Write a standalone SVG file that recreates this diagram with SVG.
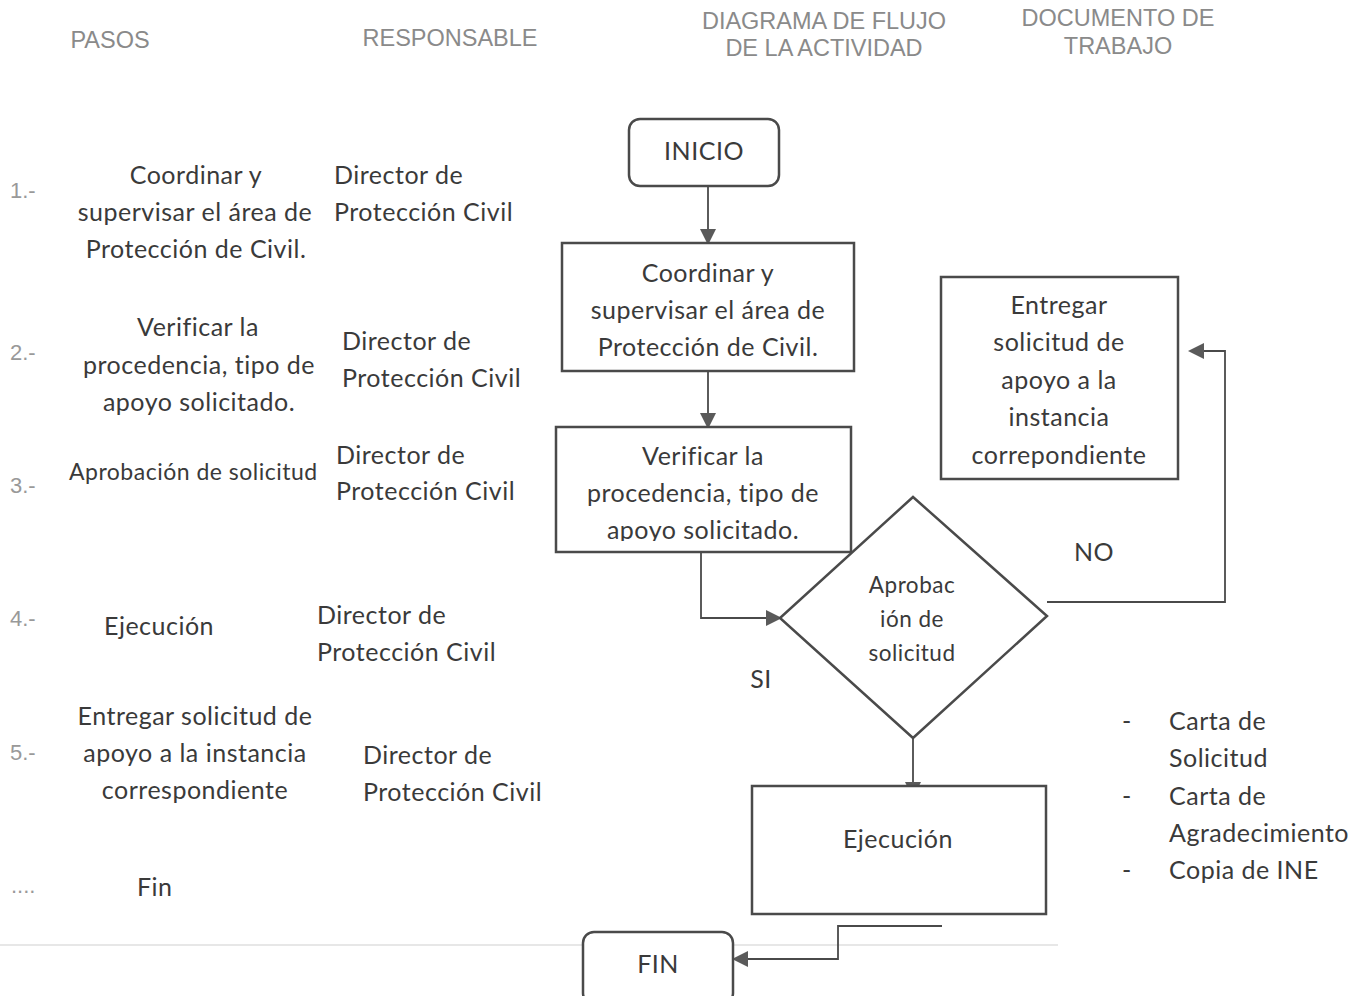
<svg xmlns="http://www.w3.org/2000/svg" width="1365" height="996" viewBox="0 0 1365 996">
<style>
.hd{font-family:"Liberation Sans",Arial,sans-serif;font-size:23.5px;fill:#8a8a8a;text-anchor:middle}
.num{font-family:"Liberation Sans",Arial,sans-serif;font-size:22px;fill:#999}
.t{font-family:Lato,"Noto Sans",sans-serif;font-size:25px;letter-spacing:0.5px;fill:#3a3a3a}
.c{text-anchor:middle}
.box{fill:#fff;stroke:#4a4a4a;stroke-width:2.5}
.ln{fill:none;stroke:#4a4a4a;stroke-width:1.8}
</style>
<defs>
<marker id="ah" markerWidth="16" markerHeight="16" refX="14" refY="8" orient="auto" markerUnits="userSpaceOnUse">
<path d="M0,0 L16,8 L0,16 Z" fill="#5a5a5a"/>
</marker>
<clipPath id="clip2"><rect x="556" y="427" width="295" height="114"/></clipPath>
</defs>
<rect width="1365" height="996" fill="#fff"/>
<g id="headers">
<text class="hd" x="110" y="48">PASOS</text>
<text class="hd" x="450" y="46">RESPONSABLE</text>
<text class="hd" x="824" y="29">DIAGRAMA DE FLUJO</text>
<text class="hd" x="824" y="56">DE LA ACTIVIDAD</text>
<text class="hd" x="1118" y="26">DOCUMENTO DE</text>
<text class="hd" x="1118" y="54">TRABAJO</text>
</g>
<line x1="0" y1="945" x2="1058" y2="945" stroke="#d0d0d0" stroke-width="1.2"/>
<g id="steps">
<text class="num" x="10" y="198">1.-</text>
<text class="t c" x="196" y="184">Coordinar y</text>
<text class="t c" x="195" y="221">supervisar el área de</text>
<text class="t c" x="196" y="258">Protección de Civil.</text>
<text class="num" x="10" y="360">2.-</text>
<text class="t c" x="198" y="336">Verificar la</text>
<text class="t c" x="199" y="374">procedencia, tipo de</text>
<text class="t c" x="199" y="411">apoyo solicitado.</text>
<text class="num" x="10" y="493">3.-</text>
<text class="t" x="69" y="480" style="font-size:23px">Aprobación de solicitud</text>
<text class="num" x="10" y="626">4.-</text>
<text class="t" x="104" y="635">Ejecución</text>
<text class="num" x="10" y="760">5.-</text>
<text class="t c" x="195" y="725">Entregar solicitud de</text>
<text class="t c" x="195" y="762">apoyo a la instancia</text>
<text class="t c" x="195" y="799">correspondiente</text>
<text class="num" x="11" y="893">....</text>
<text class="t" x="137" y="896">Fin</text>
</g>
<g id="responsables">
<text class="t" x="334" y="184">Director de</text>
<text class="t" x="334" y="221">Protección Civil</text>
<text class="t" x="342" y="350">Director de</text>
<text class="t" x="342" y="387">Protección Civil</text>
<text class="t" x="336" y="464">Director de</text>
<text class="t" x="336" y="500">Protección Civil</text>
<text class="t" x="317" y="624">Director de</text>
<text class="t" x="317" y="661">Protección Civil</text>
<text class="t" x="363" y="764">Director de</text>
<text class="t" x="363" y="801">Protección Civil</text>
</g>
<g id="connectors">
<line class="ln" x1="708" y1="186" x2="708" y2="243" marker-end="url(#ah)"/>
<line class="ln" x1="708" y1="371" x2="708" y2="427" marker-end="url(#ah)"/>
<polyline class="ln" points="701,552 701,618 780,618" marker-end="url(#ah)"/>
<polyline class="ln" points="1047,602 1225,602 1225,351 1190,351" marker-end="url(#ah)"/>
<line class="ln" x1="913" y1="738" x2="913" y2="796" marker-end="url(#ah)"/>
<polyline class="ln" points="942,926 838,926 838,959 734,959" marker-end="url(#ah)"/>
</g>
<g id="n-inicio">
<rect class="box" x="629" y="119" width="150" height="67" rx="11"/>
<text class="t c" x="704" y="160">INICIO</text>
</g>
<g id="n-coordinar">
<rect class="box" x="562" y="243" width="292" height="128"/>
<text class="t c" x="708" y="282">Coordinar y</text>
<text class="t c" x="708" y="319">supervisar el área de</text>
<text class="t c" x="708" y="356">Protección de Civil.</text>
</g>
<g id="n-verificar">
<rect class="box" x="556" y="427" width="295" height="125"/>
<g clip-path="url(#clip2)">
<text class="t c" x="703" y="465">Verificar la</text>
<text class="t c" x="703" y="502">procedencia, tipo de</text>
<text class="t c" x="703" y="539">apoyo solicitado.</text>
</g>
</g>
<g id="n-aprobacion">
<polygon class="box" points="913,497 1047,616 913,738 780,618"/>
<text class="t c" x="912" y="593" style="font-size:22.5px">Aprobac</text>
<text class="t c" x="912" y="627" style="font-size:22.5px">ión de</text>
<text class="t c" x="912" y="661" style="font-size:22.5px">solicitud</text>
</g>
<g id="labels">
<text class="t c" x="1094" y="561">NO</text>
<text class="t c" x="761" y="688">SI</text>
</g>
<g id="n-entregar">
<rect class="box" x="941" y="277" width="237" height="202"/>
<text class="t c" x="1059" y="314">Entregar</text>
<text class="t c" x="1059" y="351">solicitud de</text>
<text class="t c" x="1059" y="389">apoyo a la</text>
<text class="t c" x="1059" y="426">instancia</text>
<text class="t c" x="1059" y="464">correpondiente</text>
</g>
<g id="n-ejecucion">
<rect class="box" x="752" y="786" width="294" height="128"/>
<text class="t c" x="898" y="848">Ejecución</text>
</g>
<g id="n-fin">
<rect class="box" x="583" y="932" width="150" height="72" rx="11"/>
<text class="t c" x="658" y="973">FIN</text>
</g>
<g id="documentos">
<text class="t" x="1122" y="730">-</text>
<text class="t" x="1169" y="730">Carta de</text>
<text class="t" x="1169" y="767">Solicitud</text>
<text class="t" x="1122" y="805">-</text>
<text class="t" x="1169" y="805">Carta de</text>
<text class="t" x="1169" y="842">Agradecimiento</text>
<text class="t" x="1122" y="879">-</text>
<text class="t" x="1169" y="879">Copia de INE</text>
</g>
</svg>
